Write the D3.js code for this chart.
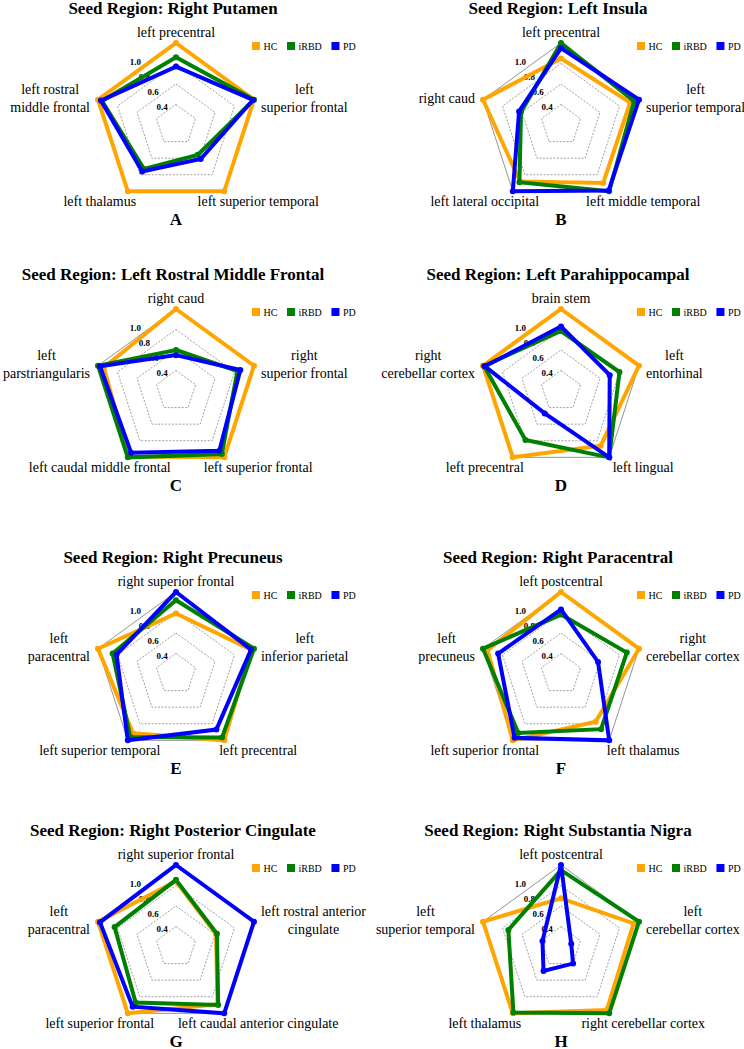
<!DOCTYPE html>
<html>
  <head>
    <script src="https://d3js.org/d3.v7.min.js"></script>
  </head>
  <body style="margin:0;background:#fff">
    <script>

      // panel titles and letters
      var seeds = [
        "Seed Region: Right Putamen",
        "Seed Region: Left Insula",
        "Seed Region: Left Rostral Middle Frontal",
        "Seed Region: Left Parahippocampal",
        "Seed Region: Right Precuneus",
        "Seed Region: Right Paracentral",
        "Seed Region: Right Posterior Cingulate",
        "Seed Region: Right Substantia Nigra"
      ];
      var letters = ["A", "B", "C", "D", "E", "F", "G", "H"];

      // axis names, clockwise from top ("\n" = line break)
      var axisNames = [
        ["left precentral", "left\nsuperior frontal", "left superior temporal", "left thalamus", "left rostral\nmiddle frontal"],
        ["left precentral", "left\nsuperior temporal", "left middle temporal", "left lateral occipital", "right caud"],
        ["right caud", "right\nsuperior frontal", "left superior frontal", "left caudal middle frontal", "left\nparstriangularis"],
        ["brain stem", "left\nentorhinal", "left lingual", "left precentral", "right\ncerebellar cortex"],
        ["right superior frontal", "left\ninferior parietal", "left precentral", "left superior temporal", "left\nparacentral"],
        ["left postcentral", "right\ncerebellar cortex", "left thalamus", "left superior frontal", "left\nprecuneus"],
        ["right superior frontal", "left rostral anterior\ncingulate", "left caudal anterior cingulate", "left superior frontal", "left\nparacentral"],
        ["left postcentral", "left\ncerebellar cortex", "right cerebellar cortex", "left thalamus", "left\nsuperior temporal"]
      ];

      var groups = ["HC", "iRBD", "PD"];

      var hc = [
        [1.0, 1.0, 1.0, 1.0, 1.0],
        [0.85, 0.91, 0.90, 0.88, 1.0],
        [1.0, 1.0, 1.0, 0.99, 0.94],
        [1.0, 1.0, 0.86, 1.0, 1.0],
        [0.79, 0.97, 1.0, 0.915, 1.0],
        [1.0, 1.0, 0.775, 1.0, 0.955],
        [0.84, 0.61, 0.89, 1.0, 1.0],
        [0.675, 0.945, 0.96, 1.0, 1.0]
      ];
      var irbd = [
        [0.86, 1.0, 0.56, 0.73, 0.96],
        [1.0, 0.95, 1.0, 0.89, 0.61],
        [0.60, 0.83, 0.96, 1.0, 1.0],
        [0.785, 0.80, 1.0, 0.79, 0.99],
        [0.92, 1.0, 0.965, 0.96, 0.85],
        [0.78, 0.875, 0.865, 0.91, 1.0],
        [0.855, 0.62, 0.90, 0.87, 0.83],
        [0.95, 1.0, 1.0, 0.99, 0.74]
      ];
      var pd = [
        [0.77, 0.99, 0.61, 0.76, 0.97],
        [0.95, 1.0, 0.99, 1.0, 0.63],
        [0.55, 0.86, 0.92, 0.945, 0.98],
        [0.83, 0.70, 1.0, 0.47, 0.98],
        [1.0, 0.97, 0.87, 1.0, 0.81],
        [0.83, 0.58, 1.0, 0.97, 0.845],
        [1.0, 1.0, 1.0, 0.92, 0.98],
        [1.0, 0.305, 0.40, 0.49, 0.39]
      ];

      var ticks = [0.4, 0.6, 0.8, 1.0];
      var tickLabels = ["0.4", "0.6", "0.8", "1.0"];

      var colors = { HC: "orange", iRBD: "green", PD: "blue" };
      var seriesByGroup = { HC: hc, iRBD: irbd, PD: pd };

      var w = 744, h = 1049;
      var colX = [176, 561];
      var rowY = [125, 391, 674, 947];
      var R = 82;

      var r = d3.scaleLinear().domain([0.2, 1.0]).range([0, R]);
      var angle = d3.scaleLinear().domain([0, 5]).range([0, 2 * Math.PI]);

      function pt(v, i) {
        var a = angle(i);
        return [r(v) * Math.sin(a), -r(v) * Math.cos(a)];
      }

      var line = d3.line().curve(d3.curveLinearClosed);

      var svg = d3.select("body")
        .append("svg")
        .attr("width", w)
        .attr("height", h)
        .attr("font-family", "Liberation Serif")
        .style("background", "#fff");

      seeds.forEach(function(title, p) {
        var cx = colX[p % 2], cy = rowY[Math.floor(p / 2)];
        var g = svg.append("g").attr("transform", `translate(${cx},${cy})`);

        // grid pentagons
        ticks.forEach(function(t) {
          g.append("path")
            .attr("d", line(d3.range(5).map(function(i) { return pt(t, i); })))
            .attr("fill", "none")
            .attr("stroke", t === 1.0 ? "#666" : "#777")
            .attr("stroke-width", 0.7)
            .attr("stroke-dasharray", t === 1.0 ? null : "2,1.5");
        });

        // tick labels
        ticks.forEach(function(t, k) {
          var d = r(t);
          g.append("text")
            .attr("x", -0.434 * d - 5)
            .attr("y", -0.732 * d - 3)
            .attr("text-anchor", "middle")
            .attr("dominant-baseline", "central")
            .attr("font-family", "Liberation Serif")
            .attr("font-size", 9)
            .attr("font-weight", "bold")
            .text(tickLabels[k]);
        });

        // series
        groups.forEach(function(grp) {
          var vals = seriesByGroup[grp][p];
          var pts = vals.map(function(v, i) { return pt(v, i); });
          g.append("path")
            .attr("d", line(pts))
            .attr("fill", "none")
            .attr("stroke", colors[grp])
            .attr("stroke-width", 4)
            .attr("stroke-linejoin", "miter");
          g.selectAll(null)
            .data(pts)
            .enter()
            .append("circle")
            .attr("cx", function(d) { return d[0]; })
            .attr("cy", function(d) { return d[1]; })
            .attr("r", 3)
            .attr("fill", colors[grp]);
        });

        // axis names
        axisNames[p].forEach(function(name, i) {
          var v = pt(1.0, i);
          var lines = name.split("\n");
          var t = g.append("text")
            .attr("text-anchor", "middle")
            .attr("dominant-baseline", "central")
            .attr("font-family", "Liberation Serif")
            .attr("font-size", 14);
          var spans = lines.map(function(s) {
            return t.append("tspan").text(s);
          });
          var maxW = d3.max(spans, function(s) { return s.node().getComputedTextLength(); });
          var x, y0;
          if (i === 0) {
            x = 0; y0 = -R - 11;
          } else if (i === 1) {
            x = v[0] + 7 + maxW / 2; y0 = v[1] - 1.7 - (lines.length - 1) * 9;
          } else if (i === 4) {
            x = v[0] - 8 - maxW / 2; y0 = v[1] - 1.7 - (lines.length - 1) * 9;
          } else if (i === 2) {
            x = v[0] + 34; y0 = v[1] + 10;
          } else {
            x = v[0] - 28; y0 = v[1] + 10;
          }
          spans.forEach(function(s, k) {
            s.attr("x", x).attr("y", y0 + k * 18);
          });
        });

        // title and letter
        g.append("text")
          .attr("x", -3)
          .attr("y", -117)
          .attr("text-anchor", "middle")
          .attr("dominant-baseline", "central")
          .attr("font-family", "Liberation Serif")
          .attr("font-size", 17)
          .attr("font-weight", "bold")
          .text(title);

        g.append("text")
          .attr("x", 0)
          .attr("y", 94)
          .attr("text-anchor", "middle")
          .attr("dominant-baseline", "central")
          .attr("font-family", "Liberation Serif")
          .attr("font-size", 17)
          .attr("font-weight", "bold")
          .text(letters[p]);

        // legend
        var lx = 76;
        groups.forEach(function(grp) {
          var item = g.append("g").attr("transform", `translate(${lx},${-83})`);
          item.append("rect")
            .attr("width", 8)
            .attr("height", 8)
            .attr("fill", colors[grp]);
          var txt = item.append("text")
            .attr("x", 11.5)
            .attr("y", 7.5)
            .attr("font-family", "Liberation Serif")
            .attr("font-size", 10)
            .text(grp);
          lx += 8 + 3.5 + txt.node().getComputedTextLength() + 9.6;
        });
      });

    </script>
  </body>
</html>
